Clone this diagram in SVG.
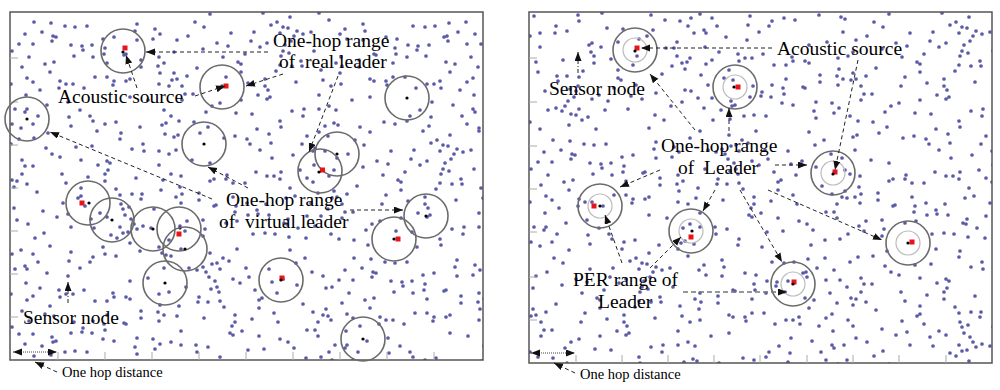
<svg xmlns="http://www.w3.org/2000/svg" xmlns:xlink="http://www.w3.org/1999/xlink" width="1000" height="390" viewBox="0 0 1000 390">
<style>
.dots{fill:none;stroke:#5a5aa6;stroke-width:3.7;stroke-linecap:round}
.frame{fill:none;stroke:#555;stroke-width:1.5}
.tick{stroke:#aaa;stroke-width:1}
.ring{fill:none;stroke:#6b6b6b;stroke-width:1.6}
.inner{fill:none;stroke:#bcbcbc;stroke-width:1.2}
.red{fill:#e8141b}
.blk{fill:#000}
.lbl{font-family:"Liberation Serif","Times New Roman",serif;font-size:19.5px;fill:#000;white-space:pre}
.sm{font-family:"Liberation Serif","Times New Roman",serif;font-size:14.5px;fill:#000}
.arr{fill:none;stroke:#222;stroke-width:1;stroke-dasharray:4 3}
.dd{fill:none;stroke:#222;stroke-width:1;stroke-dasharray:4 2 1 2}
.dot{fill:none;stroke:#444;stroke-width:1;stroke-dasharray:1 1}
.gray{fill:none;stroke:#777;stroke-width:1.3;stroke-dasharray:5 3}
</style>
<defs>
<marker id="ah" markerUnits="userSpaceOnUse" markerWidth="10" markerHeight="8" refX="9" refY="3.5" orient="auto"><path d="M0,0 L9,3.5 L0,7 z" fill="#111"/></marker>
<marker id="ahs" markerUnits="userSpaceOnUse" markerWidth="10" markerHeight="8" refX="9" refY="3.5" orient="auto-start-reverse"><path d="M0,0 L9,3.5 L0,7 z" fill="#111"/></marker>
<path id="dA" class="dots" d="M23 70h0M104 69h0M127 28h0M74 76h0M61 33h0M80 104h0M32 20h0M64 44h0M17 97h0M156 111h0M95 36h0M131 48h0M46 25h0M159 74h0M5 97h0M55 14h0M11 116h0M24 10h0M82 33h0M49 76h0M15 100h0M97 65h0M93 27h0M116 42h0M65 15h0M77 14h0M72 34h0M16 83h0M150 61h0M17 66h0M103 73h0M152 113h0M149 45h0M154 51h0M130 115h0M106 110h0M30 78h0M138 88h0M37 93h0M125 19h0M43 24h0M145 17h0M35 52h0M148 54h0M56 72h0M73 38h0M104 25h0M63 72h0M42 29h0M23 32h0M116 69h0M1 72h0M50 69h0M28 104h0M83 109h0M154 98h0M41 11h0M114 43h0M59 105h0M94 42h0M2 39h0M85 65h0M131 55h0M83 45h0M23 112h0M40 60h0M97 51h0M9 32h0M58 90h0M95 112h0M15 22h0M19 45h0M149 72h0M127 12h0M44 50h0M12 55h0M61 114h0M120 67h0M70 98h0M120 85h0M143 27h0M150 22h0M2 112h0"/>
<path id="dB" class="dots" d="M115 33h0M132 54h0M7 28h0M58 34h0M75 42h0M106 59h0M121 29h0M15 82h0M153 68h0M155 114h0M100 85h0M12 74h0M56 65h0M95 67h0M61 21h0M84 20h0M68 50h0M36 100h0M149 1h0M9 109h0M131 49h0M95 74h0M7 67h0M144 39h0M47 31h0M98 78h0M118 16h0M52 74h0M151 58h0M124 24h0M133 104h0M110 21h0M40 2h0M2 68h0M133 22h0M149 83h0M25 10h0M24 110h0M141 20h0M81 29h0M122 54h0M107 10h0M42 94h0M27 56h0M66 101h0M119 41h0M71 52h0M17 64h0M12 88h0M159 8h0M88 83h0M122 99h0M97 31h0M53 45h0M93 1h0M120 5h0M149 97h0M90 35h0M97 87h0M18 24h0M113 39h0M113 15h0M71 88h0M4 40h0M111 115h0M33 37h0M23 82h0M134 97h0M4 61h0M82 102h0M126 70h0M34 15h0M38 115h0M71 60h0M111 44h0M101 13h0M87 117h0M159 94h0M110 53h0M78 71h0M127 19h0M110 109h0M1 104h0M50 91h0"/>
<clipPath id="cL"><rect x="10" y="12" width="473" height="348"/></clipPath>
<clipPath id="cR"><rect x="529" y="12" width="463" height="351"/></clipPath>
</defs>
<rect width="1000" height="390" fill="#fff"/>

<g id="panel-left">
<g id="sensors-left" clip-path="url(#cL)">
<use xlink:href="#dA" transform="translate(10,12)"/>
<use xlink:href="#dB" transform="translate(170,12)"/>
<use xlink:href="#dA" transform="translate(490,12) scale(-1,1)"/>
<use xlink:href="#dB" transform="translate(10,248) scale(1,-1)"/>
<use xlink:href="#dA" transform="translate(330,248) scale(-1,-1)"/>
<use xlink:href="#dB" transform="translate(330,130)"/>
<use xlink:href="#dA" transform="translate(10,366) scale(1,-1)"/>
<use xlink:href="#dB" transform="translate(330,248) scale(-1,1)"/>
<use xlink:href="#dA" transform="translate(330,248)"/>
</g>
<rect class="frame" x="10" y="12" width="473" height="348"/>
<path class="tick" d="M10 58h8M10 102h8M10 145h8M10 188h8M10 231h8M10 274h8M10 317h8M58 360v-8M105 360v-8M152 360v-8M199 360v-8M246 360v-8M293 360v-8M340 360v-8M387 360v-8M434 360v-8"/>
</g>

<g id="panel-right">
<g id="sensors-right" clip-path="url(#cR)">
<use xlink:href="#dB" transform="translate(689,130) scale(-1,-1)"/>
<use xlink:href="#dA" transform="translate(689,130) scale(1,-1)"/>
<use xlink:href="#dB" transform="translate(849,12)"/>
<use xlink:href="#dA" transform="translate(529,130)"/>
<use xlink:href="#dB" transform="translate(849,130) scale(-1,1)"/>
<use xlink:href="#dA" transform="translate(1009,248) scale(-1,-1)"/>
<use xlink:href="#dB" transform="translate(529,248)"/>
<use xlink:href="#dA" transform="translate(849,248) scale(-1,1)"/>
<use xlink:href="#dB" transform="translate(849,366) scale(1,-1)"/>
</g>
<rect class="frame" x="529" y="12" width="463" height="351"/>
<path class="tick" d="M529 58h8M529 102h8M529 146h8M529 189h8M529 232h8M529 277h8M529 320h8M576 363v-8M622 363v-8M668 363v-8M714 363v-8M760 363v-8M807 363v-8M853 363v-8M899 363v-8M946 363v-8"/>
</g>

<g id="L1"><circle class="ring" cx="123" cy="51" r="22"/><rect class="red" x="122.5" y="45.5" width="5" height="5"/><circle class="blk" cx="123" cy="52" r="1.6"/></g>
<g id="L2"><circle class="ring" cx="222" cy="87" r="22"/><rect class="red" x="223.5" y="83.5" width="5" height="5"/><circle class="blk" cx="222" cy="87" r="1.6"/></g>
<g id="L3"><circle class="ring" cx="27" cy="119" r="22"/><circle class="blk" cx="27" cy="119" r="1.6"/></g>
<g id="L4"><circle class="ring" cx="204" cy="144" r="22"/><circle class="blk" cx="204" cy="144" r="1.6"/></g>
<g id="L5"><circle class="ring" cx="88" cy="203" r="22"/><rect class="red" x="79.5" y="200.5" width="5" height="5"/><circle class="blk" cx="89" cy="203" r="1.6"/></g>
<g id="L6"><circle class="ring" cx="112" cy="220" r="22"/><circle class="blk" cx="112" cy="220" r="1.6"/></g>
<g id="L7"><circle class="ring" cx="153" cy="229" r="22"/><circle class="blk" cx="153" cy="229" r="1.6"/></g>
<g id="L8"><circle class="ring" cx="179" cy="229" r="22"/><circle class="blk" cx="180" cy="228" r="1.6"/><rect class="red" x="176.5" y="231.5" width="5" height="5"/></g>
<g id="L9"><circle class="ring" cx="185" cy="249" r="22"/><circle class="blk" cx="185" cy="249" r="1.6"/></g>
<g id="L10"><circle class="ring" cx="165" cy="283" r="22"/><circle class="blk" cx="165" cy="283" r="1.6"/></g>
<g id="L11"><circle class="ring" cx="407" cy="98" r="22"/><circle class="blk" cx="407" cy="98" r="1.6"/></g>
<g id="L12"><circle class="ring" cx="337" cy="154" r="22"/><circle class="blk" cx="337" cy="154" r="1.6"/></g>
<g id="L13"><circle class="ring" cx="320" cy="171" r="22"/><rect class="red" x="320" y="167.5" width="5" height="5"/><circle class="blk" cx="319" cy="172" r="1.6"/></g>
<g id="L14"><circle class="ring" cx="426" cy="216" r="22"/><circle class="blk" cx="426" cy="216" r="1.6"/></g>
<g id="L15"><circle class="ring" cx="394" cy="239" r="22"/><rect class="red" x="395.5" y="236.5" width="5" height="5"/><circle class="blk" cx="394" cy="239" r="1.6"/></g>
<g id="L16"><circle class="ring" cx="281" cy="280" r="22"/><rect class="red" x="279.5" y="275.5" width="5" height="5"/><circle class="blk" cx="281" cy="280" r="1.6"/></g>
<g id="L17"><circle class="ring" cx="363" cy="339" r="22"/><circle class="blk" cx="363" cy="339" r="1.6"/></g>

<g id="R1"><circle class="ring" cx="635" cy="50" r="22"/><circle class="inner" cx="635" cy="50" r="12"/><rect class="red" x="634.5" y="45.5" width="5" height="5"/><circle class="blk" cx="635" cy="51" r="1.6"/></g>
<g id="R2"><circle class="ring" cx="735" cy="87" r="22"/><circle class="inner" cx="735" cy="87" r="12"/><rect class="red" x="735.5" y="84.5" width="5" height="5"/><circle class="blk" cx="734" cy="87" r="1.6"/></g>
<g id="R3"><circle class="ring" cx="833" cy="173" r="22"/><circle class="inner" cx="833" cy="173" r="12"/><rect class="red" x="832.5" y="169.5" width="5" height="5"/><circle class="blk" cx="833" cy="174" r="1.6"/></g>
<g id="R4"><circle class="ring" cx="600" cy="206" r="22"/><circle class="inner" cx="600" cy="206" r="12"/><rect class="red" x="591.5" y="203.5" width="5" height="5"/><circle class="blk" cx="600" cy="206" r="1.6"/></g>
<g id="R5"><circle class="ring" cx="691" cy="231" r="22"/><circle class="inner" cx="691" cy="231" r="12"/><rect class="red" x="688.5" y="234.5" width="5" height="5"/><circle class="blk" cx="692" cy="231" r="1.6"/></g>
<g id="R6"><circle class="ring" cx="908" cy="243" r="22"/><circle class="inner" cx="908" cy="243" r="12"/><rect class="red" x="909.5" y="239.5" width="5" height="5"/><circle class="blk" cx="908" cy="243" r="1.6"/></g>
<g id="R7"><circle class="ring" cx="793" cy="284" r="22"/><circle class="inner" cx="793" cy="284" r="12"/><rect class="red" x="791.5" y="279.5" width="5" height="5"/><circle class="blk" cx="793" cy="284" r="1.6"/></g>

<g id="connectors">
<path class="arr" d="M268 52L146 52" marker-end="url(#ah)"/>
<path class="arr" d="M283 74L246 86" marker-end="url(#ah)"/>
<path class="arr" d="M338 76L309 152" marker-end="url(#ah)"/>
<path class="arr" d="M137 88L126 55" marker-end="url(#ah)"/>
<path class="arr" d="M195 96L225 86" marker-end="url(#ah)"/>
<path class="arr" d="M212 199L50 132" marker-end="url(#ah)"/>
<path class="arr" d="M248 188L208 167" marker-end="url(#ah)"/>
<path class="arr" d="M350 210L403 210" marker-end="url(#ah)"/>
<path class="dd" d="M68 303L68 282" marker-end="url(#ah)"/>
<path class="dot" d="M13 352L57 352" marker-start="url(#ahs)" marker-end="url(#ahs)"/>
<path class="arr" d="M57 372L35 362" marker-end="url(#ah)"/>

<path class="arr" d="M772 48L641 48" marker-end="url(#ah)"/>
<path class="arr" d="M858 60L835 170" marker-end="url(#ah)"/>
<path class="dd" d="M578 73L578 52" marker-end="url(#ah)"/>
<path class="arr" d="M695 130L650 74" marker-end="url(#ah)"/>
<path class="arr" d="M729 131L729 108" marker-end="url(#ah)"/>
<path class="arr" d="M660 170L620 187" marker-end="url(#ah)"/>
<path class="arr" d="M715 190L703 211" marker-end="url(#ah)"/>
<path class="arr" d="M775 165L807 165" marker-end="url(#ah)"/>
<path class="arr" d="M768 190L882 240" marker-end="url(#ah)"/>
<path class="arr" d="M740 190L782 262" marker-end="url(#ah)"/>
<path class="arr" d="M622 263L605 215" marker-end="url(#ah)"/>
<path class="arr" d="M650 268L681 237" marker-end="url(#ah)"/>
<path class="gray" d="M683 292L787 292" marker-end="url(#ah)"/>
<path class="dot" d="M531 353L575 353" marker-start="url(#ahs)" marker-end="url(#ahs)"/>
<path class="arr" d="M575 373L554 363" marker-end="url(#ah)"/>
</g>

<g id="labels">
<text class="lbl" x="273" y="47">One-hop range</text>
<text class="lbl" x="279" y="68">of  real leader</text>
<text class="lbl" x="58" y="103">Acoustic source</text>
<text class="lbl" x="226" y="206">One-hop range</text>
<text class="lbl" x="219" y="228">of  virtual leader</text>
<text class="lbl" x="23" y="324">Sensor node</text>
<text class="sm" x="62" y="377">One hop distance</text>
<text class="lbl" x="777" y="55">Acoustic source</text>
<text class="lbl" x="549" y="95">Sensor node</text>
<text class="lbl" x="661" y="152">One-hop range</text>
<text class="lbl" x="678" y="174">of  Leader</text>
<text class="lbl" x="573" y="286">PER range of</text>
<text class="lbl" x="598" y="308">Leader</text>
<text class="sm" x="580" y="379">One hop distance</text>
</g>
</svg>
